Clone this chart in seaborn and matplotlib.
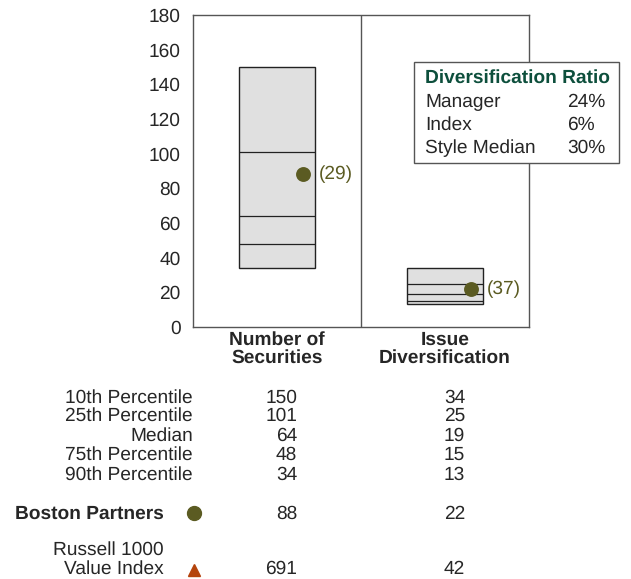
import matplotlib
matplotlib.use("Agg")
import matplotlib.pyplot as plt
import matplotlib.transforms as mtransforms
from matplotlib.patches import Rectangle
import numpy as np
import pandas as pd
import seaborn as sns

# ---- data ----
categories = ["Number of\nSecurities", "Issue\nDiversification"]
pct10 = [150, 34]
pct25 = [101, 25]
median = [64, 19]
pct75 = [48, 15]
pct90 = [34, 13]
manager = [88, 22]
manager_rank = ["(29)", "(37)"]
index_vals = [691, 42]
row_labels = ["10th Percentile", "25th Percentile", "Median", "75th Percentile", "90th Percentile"]
ratio_labels = ["Manager", "Index", "Style Median"]
ratio_values = ["24%", "6%", "30%"]
yticks = [0, 20, 40, 60, 80, 100, 120, 140, 160, 180]

sns.set_style("white")
plt.rcParams["font.family"] = ["Liberation Sans", "DejaVu Sans"]
plt.rcParams["text.hinting"] = "no_hinting"
FS = 13.8
plt.rcParams["font.size"] = FS

W, H = 631, 579
fig = plt.figure(figsize=(W / 100, H / 100), dpi=100)

def fx(px):
    return px / W

def fy(py):
    return 1 - py / H

ax = fig.add_axes([fx(193), fy(327), fx(529) - fx(193), fy(15) - fy(327)])

pos = np.arange(len(categories))
box_w = 0.452
olive = "#5b5b22"
rust = "#b4440c"

# floating percentile boxes
ax.bar(pos, np.array(pct10) - np.array(pct90), bottom=pct90, width=box_w,
       color="#e0e0e0", edgecolor="#222222", linewidth=1.0, zorder=2)
for i in range(len(pos)):
    ax.hlines([pct25[i], median[i], pct75[i]], pos[i] - box_w / 2, pos[i] + box_w / 2,
              colors="#222222", linewidth=0.9, zorder=3)

# manager points
dot_off = 0.155
df = pd.DataFrame({"x": pos + dot_off, "y": manager})
sns.scatterplot(data=df, x="x", y="y", s=115, color=olive, edgecolor=olive,
                linewidth=0, ax=ax, zorder=4, legend=False)
for i in range(len(pos)):
    ax.text(pos[i] + 0.25, manager[i], manager_rank[i], color=olive, fontsize=FS,
            va="center", ha="left", zorder=5)

# panel divider
ax.axvline(0.5, color="#555555", linewidth=1.0)

ax.set_xlim(-0.5, 1.5)
ax.set_ylim(0, 180)
ax.set_yticks(yticks)
ax.set_xticks(pos)
ax.set_xticklabels(categories, fontweight="bold", linespacing=1.0)
ax.tick_params(axis="x", length=0, pad=3)
ax.tick_params(axis="y", length=7, width=1, color="#555555", direction="out", pad=2, labelsize=FS)
ax.set_xlabel("")
ax.set_ylabel("")
for s in ax.spines.values():
    s.set_color("#555555")
    s.set_linewidth(1.0)

# diversification ratio box
fig.patches.append(Rectangle((fx(414), fy(163)), fx(619) - fx(414), fy(62) - fy(163),
                             transform=fig.transFigure, facecolor="white",
                             edgecolor="#555555", linewidth=1.0, zorder=10))
fig.text(fx(425), fy(78), "Diversification Ratio", color="#0d4f3c", fontweight="bold",
         fontsize=FS, va="center", ha="left", zorder=11)
for k, (lab, val) in enumerate(zip(ratio_labels, ratio_values)):
    yy = fy(102 + 23 * k)
    fig.text(fx(425), yy, lab, fontsize=FS, va="center", ha="left", zorder=11)
    fig.text(fx(567), yy, val, fontsize=FS, va="center", ha="left", zorder=11)

# percentile table beneath the chart
blend = mtransforms.blended_transform_factory(ax.transData, fig.transFigure)
row_y = [398, 416, 436, 455, 475]
stats = [pct10, pct25, median, pct75, pct90]
for lab, yy, vals in zip(row_labels, row_y, stats):
    fig.text(fx(193), fy(yy), lab, ha="right", va="center", fontsize=FS)
    for i in range(len(pos)):
        ax.text(pos[i] + 0.12, fy(yy), str(vals[i]), transform=blend,
                ha="right", va="center", fontsize=FS)

fig.text(fx(164), fy(514), "Boston Partners", ha="right", va="center", fontsize=FS,
         fontweight="bold")
fig.lines.append(plt.Line2D([fx(194)], [fy(513)], marker="o", ms=10, color=olive,
                            linestyle="none", transform=fig.transFigure))
for i in range(len(pos)):
    ax.text(pos[i] + 0.12, fy(514), str(manager[i]), transform=blend,
            ha="right", va="center", fontsize=FS)

fig.text(fx(164), fy(550), "Russell 1000", ha="right", va="center", fontsize=FS)
fig.text(fx(164), fy(569), "Value Index", ha="right", va="center", fontsize=FS)
fig.lines.append(plt.Line2D([fx(194)], [fy(570)], marker="^", ms=9, color=rust,
                            linestyle="none", transform=fig.transFigure))
for i in range(len(pos)):
    ax.text(pos[i] + 0.12, fy(569), str(index_vals[i]), transform=blend,
            ha="right", va="center", fontsize=FS)

fig.savefig("out.png", dpi=100)
